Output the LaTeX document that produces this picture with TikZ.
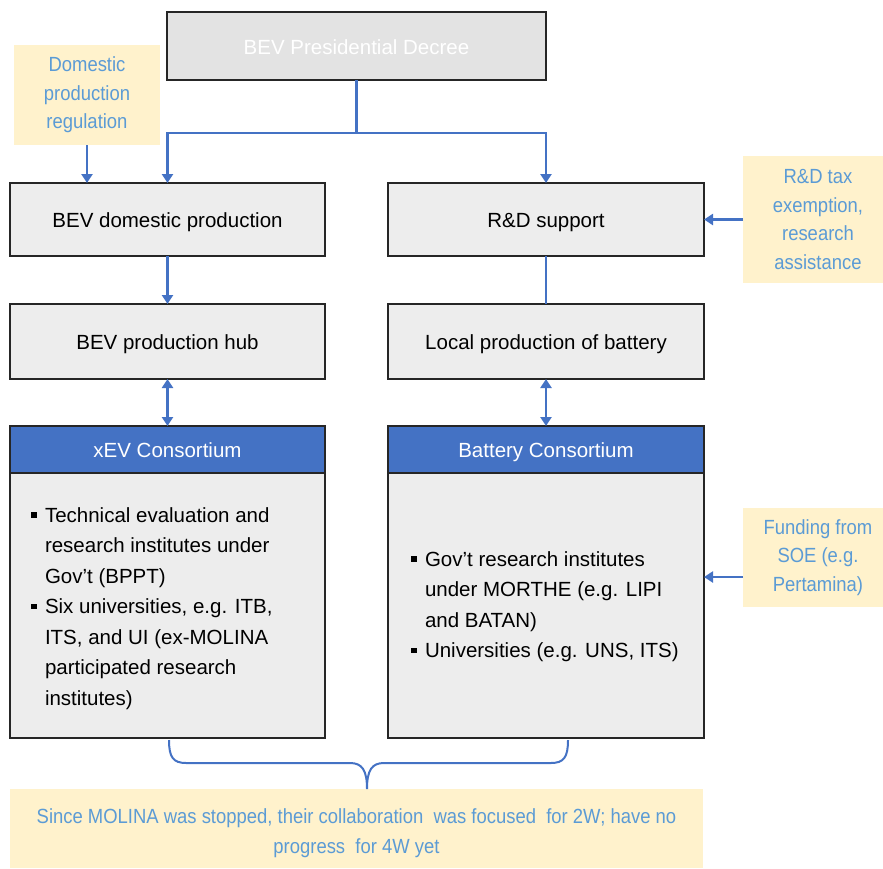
\documentclass[tikz,border=0pt]{standalone}
\usepackage{fontspec}
\setmainfont{Liberation Sans}
\newfontfamily\notefont[FakeStretch=0.9]{Liberation Sans}
\usetikzlibrary{arrows.meta}
\definecolor{linkblue}{HTML}{4472C4}
\definecolor{notetext}{HTML}{5B9BD5}
\definecolor{notefill}{HTML}{FFF2CC}
\definecolor{boxfill}{HTML}{EDEDED}
\definecolor{topfill}{HTML}{E3E3E3}
\definecolor{edge}{HTML}{262626}
\newcommand\sqmark{\raisebox{4.5pt}{\rule{5.5pt}{5.5pt}}}

\begin{document}
\begin{tikzpicture}[x=1pt,y=-1pt,
  every node/.style={inner sep=0pt, outer sep=0pt},
  box/.style={draw=edge, line width=1.4pt, fill=boxfill, minimum width=315pt,
    font=\fontsize{20.5}{24}\selectfont, text=black, text height=16pt, text depth=0pt},
  topbox/.style={box, fill=topfill, text=white, minimum width=379pt, minimum height=68pt},
  head/.style={box, fill=linkblue, text=white, minimum height=47pt},
  body/.style={box, minimum height=265pt},
  note/.style={fill=notefill, text=notetext, align=center,
    font=\notefont\fontsize{20.5}{28.5}\selectfont},
  list/.style={anchor=base west, font=\fontsize{20.5}{30.5}\selectfont, text=black},
  link/.style={draw=linkblue, line width=2.4pt},
  arr/.style={link, -{Triangle[length=9pt,width=11pt]}},
  darr/.style={link, {Triangle[length=9pt,width=11pt]}-{Triangle[length=9pt,width=11pt]}}
]
\useasboundingbox (0,0) rectangle (883,868);

% top level
\node[topbox] (decree) at (356.5,46) {BEV Presidential Decree};
\node[note, minimum width=146pt, minimum height=100pt] (domreg) at (87,95)
  {Domestic\\production\\regulation};

% second level
\node[box, minimum height=73pt] (domprod) at (167.5,219.5) {BEV domestic production};
\node[box, minimum width=316pt, minimum height=73pt] (rd) at (546,219.5) {R\&D support};
\node[note, minimum width=150pt, minimum height=127pt] (rdtax) at (818,219.5)
  {R\&D tax\\exemption,\\research\\assistance};

% third level
\node[box, minimum height=75pt] (hub) at (167.5,341.5) {BEV production  hub};
\node[box, minimum width=316pt, minimum height=75pt] (localbat) at (546,341.5)
  {Local  production  of  battery};

% consortia
\node[head] (xevhead) at (167.5,449.5) {xEV Consortium};
\node[head, minimum width=316pt] (bathead) at (546,449.5) {Battery Consortium};
\node[body] (xevbody) at (167.5,605.5) {};
\node[body, minimum width=316pt] (batbody) at (546,605.5) {};
\node[list] (xevlist) at (31,522) {%
  \begin{tabular}[t]{@{}l@{\hspace{8.5pt}}l@{}}
  \sqmark & Technical evaluation and\\
          & research institutes under\\
          & Gov’t (BPPT)\\
  \sqmark & Six universities, e.g. ITB,\\
          & ITS, and UI (ex-MOLINA\\
          & participated research\\
          & institutes)
  \end{tabular}};
\node[list] (batlist) at (411,566) {%
  \begin{tabular}[t]{@{}l@{\hspace{8.5pt}}l@{}}
  \sqmark & Gov’t research institutes\\
          & under MORTHE (e.g. LIPI\\
          & and BATAN)\\
  \sqmark & Universities (e.g. UNS, ITS)
  \end{tabular}};
\node[note, minimum width=150pt, minimum height=99pt] (funding) at (818,557.5)
  {Funding from\\SOE (e.g.\\Pertamina)};

% summary note
\node[note, minimum width=693pt, minimum height=79pt] (summary) at (356.5,828.5) {};
\node[note, fill=none, font=\notefont\fontsize{20.5}{30}\selectfont] (summarytext)
  at ([yshift=-5pt]summary.center)
  {Since MOLINA was stopped, their collaboration\ \ was focused\ \ for 2W; have no\\progress\ \ for 4W yet};

% connectors
\coordinate (split) at (decree.south |- 0,133);
\draw[link] (decree.south) -- (split);
\draw[arr] (split) -| (domprod.north);
\draw[arr] (split) -| (rd.north);
\draw[arr] (domreg.south) -- (domreg.south |- domprod.north);
\draw[arr] (rdtax.west -| 743,0) -- (rd.east);
\draw[arr] (domprod.south) -- (hub.north);
\draw[link] (rd.south) -- (localbat.north);
\draw[darr] (hub.south) -- (xevhead.north);
\draw[darr] (localbat.south) -- (bathead.north);
\coordinate (fundin) at ([yshift=-19.5pt]funding.west);
\draw[arr] (fundin) -- (fundin -| batbody.east);

% brace gathering both consortia
\coordinate (braceL) at (169,740);
\coordinate (braceR) at (568,740);
\coordinate (braceTip) at (summary.north -| 367,0);
\draw[linkblue, line width=2pt]
  (braceL) .. controls (169,757) and (173,763) .. (186,763) -- (350,763)
  .. controls (362,763) and (367,770) .. (braceTip)
  .. controls (367,770) and (372,763) .. (384,763) -- (551,763)
  .. controls (564,763) and (568,757) .. (braceR);
\end{tikzpicture}
\end{document}
